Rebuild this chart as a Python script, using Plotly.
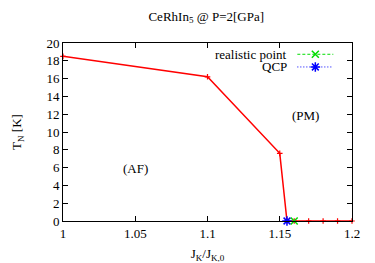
import plotly.graph_objects as go

# data
jk = [1.0, 1.1, 1.15, 1.155, 1.16, 1.17, 1.18, 1.19, 1.2]
tn = [18.5, 16.2, 7.6, 0.0, 0.0, 0.0, 0.0, 0.0, 0.0]
realistic_x = [1.16]
realistic_y = [0.0]
qcp_x = [1.155]
qcp_y = [0.0]
x_ticks = [1.0, 1.05, 1.1, 1.15, 1.2]
x_tick_labels = ["1", "1.05", "1.1", "1.15", "1.2"]
y_ticks = list(range(0, 21, 2))
legend_names = ["realistic point", "QCP"]
region_labels = ["(AF)", "(PM)"]
region_x = [1.05, 1.168]
region_y = [5.9, 11.9]

FONT = "Liberation Serif"
L, R, T, B = 62.5, 23.3, 42.7, 42
RED, GREEN, BLUE = "#ff0000", "#00dd00", "#0000ff"

fig = go.Figure()
fig.add_trace(go.Scatter(x=jk, y=tn, mode="lines+markers",
                         line=dict(color=RED, width=1.5),
                         marker=dict(symbol="cross-thin-open", size=4, color=RED,
                                     line=dict(color=RED, width=1.2)),
                         showlegend=False, cliponaxis=False))
fig.add_trace(go.Scatter(x=realistic_x, y=realistic_y, mode="markers",
                         marker=dict(symbol="x-thin-open", size=7, color=GREEN,
                                     line=dict(color=GREEN, width=1.5)),
                         showlegend=False, cliponaxis=False))
fig.add_trace(go.Scatter(x=qcp_x, y=qcp_y, mode="markers",
                         marker=dict(symbol="asterisk-open", size=8, color=BLUE,
                                     line=dict(color=BLUE, width=1.5)),
                         showlegend=False, cliponaxis=False))

# manual gnuplot-style legend on an overlay axis (0..1 in both directions)
pw = 375 - L - R
ph = 263 - T - B
def px2x(p):
    return (p - L) / pw
def py2y(p):
    return 1 - (p - T) / ph

leg_rows = [(54, GREEN, "3px,2px", "x-thin-open", 7),
            (66.7, BLUE, "1px,2px", "asterisk-open", 8)]
for (yy, col, dash, sym, sz), name in zip(leg_rows, legend_names):
    fig.add_trace(go.Scatter(x=[px2x(297), px2x(333)], y=[py2y(yy)] * 2,
                             mode="lines", line=dict(color=col, width=1, dash=dash),
                             xaxis="x2", yaxis="y2", showlegend=False, hoverinfo="skip"))
    fig.add_trace(go.Scatter(x=[px2x(315)], y=[py2y(yy)], mode="markers",
                             marker=dict(symbol=sym, size=sz, color=col,
                                         line=dict(color=col, width=1.5)),
                             xaxis="x2", yaxis="y2", showlegend=False, hoverinfo="skip"))
    fig.add_annotation(x=px2x(289), y=py2y(yy), xref="x2", yref="y2", text=name,
                       showarrow=False, xanchor="right", yanchor="middle",
                       font=dict(family=FONT, size=13, color="black"))

for t, xx, yy in zip(region_labels, region_x, region_y):
    fig.add_annotation(x=xx, y=yy, text=t, showarrow=False,
                       font=dict(family=FONT, size=13, color="black"))

axis_common = dict(showgrid=False, zeroline=False, showline=True, linecolor="black",
                   linewidth=1, mirror="allticks", ticks="inside", ticklen=5,
                   tickcolor="black", automargin=False,
                   tickfont=dict(family=FONT, size=13, color="black"))

fig.update_layout(
    width=375, height=263,
    margin=dict(l=L, r=R, t=T, b=B),
    paper_bgcolor="white", plot_bgcolor="white",
    font=dict(family=FONT, size=13, color="black"),
    title=dict(text="CeRhIn<sub>5</sub> @ P=2[GPa]", x=0.55, xanchor="center",
               y=1 - 16 / 263, yanchor="middle", automargin=False,
               font=dict(family=FONT, size=13, color="black")),
    xaxis=dict(range=[1.0, 1.2], tickvals=x_ticks, ticktext=x_tick_labels,
               title=dict(text="J<sub>K</sub>/J<sub>K,0</sub>", standoff=11,
                          font=dict(family=FONT, size=13, color="black")),
               **axis_common),
    yaxis=dict(range=[0, 20], tickvals=y_ticks,
               title=dict(text="T<sub>N</sub> [K]", standoff=21,
                          font=dict(family=FONT, size=13, color="black")),
               **axis_common),
    xaxis2=dict(range=[0, 1], overlaying="x", visible=False, anchor="y2", automargin=False),
    yaxis2=dict(range=[0, 1], overlaying="y", visible=False, anchor="x2", automargin=False),
    showlegend=False,
)

fig.write_html("out.html", config={"displayModeBar": False},
               post_script="document.body.style.margin='0';")
